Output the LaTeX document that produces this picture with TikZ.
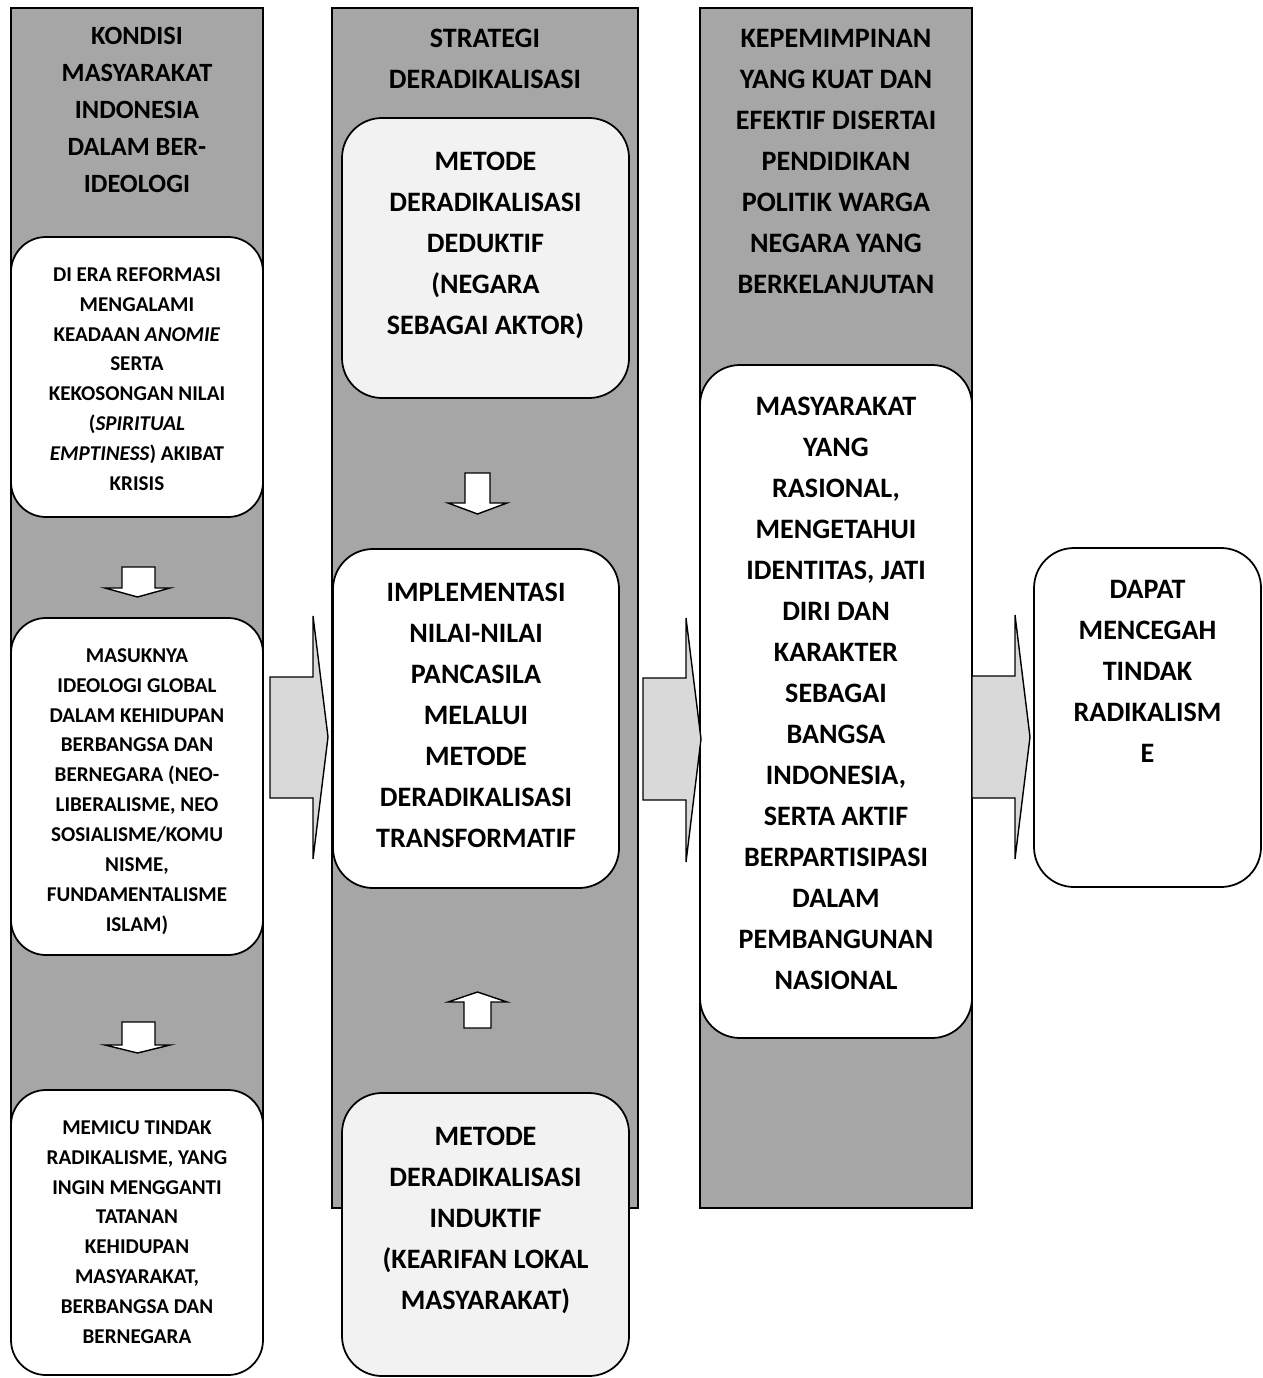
\documentclass[tikz,border=0pt]{standalone}
\usepackage{fontspec}
\setmainfont{Carlito}
\usetikzlibrary{positioning,fit}
\definecolor{colgray}{HTML}{A6A6A6}
\definecolor{boxgray}{HTML}{F2F2F2}
\definecolor{arrowgray}{HTML}{D9D9D9}

\begin{document}
\begin{tikzpicture}[
  x=0.02cm, y=-0.02cm, % 像素坐标
  column/.style={draw, line width=0.8pt, fill=colgray, inner sep=0pt},
  roundbox/.style={draw, line width=1pt, fill=white, rounded corners=0.8cm, inner sep=0pt},
  lightbox/.style={roundbox, fill=boxgray},
  bigtxt/.style={font=\fontsize{16}{23.3}\selectfont\bfseries, align=center, inner sep=0pt},
  smalltxt/.style={font=\fontsize{12}{17}\selectfont\bfseries, align=center, inner sep=0pt},
  headtxt/.style={font=\fontsize{15}{21}\selectfont\bfseries, align=center, inner sep=0pt},
  blockarrow/.style={draw, line width=0.8pt, fill=arrowgray, line join=miter},
  whitearrow/.style={draw, line width=0.8pt, fill=white, line join=miter}
]
\useasboundingbox (0,0) rectangle (1262,1378);

% 第一列
\node (col1) [column, fit={(11,8) (263,1200)}] {};
\node (col1head) [headtxt, below=0.4cm of col1.north] {KONDISI\\MASYARAKAT\\INDONESIA\\DALAM BER-\\IDEOLOGI};

\node (krisis) [roundbox, rounded corners=0.7cm, fit={(11,237) (263,517)}] {};
\node (krisisTxt) [smalltxt, below=0.62cm of krisis.north] {DI ERA REFORMASI\\MENGALAMI\\KEADAAN \textit{ANOMIE}\\SERTA\\KEKOSONGAN NILAI\\(\textit{SPIRITUAL}\\\textit{EMPTINESS}) AKIBAT\\KRISIS};

\node (global) [roundbox, rounded corners=0.7cm, fit={(11,618) (263,955)}] {};
\node (globalTxt) [smalltxt, below=0.62cm of global.north] {MASUKNYA\\IDEOLOGI GLOBAL\\DALAM KEHIDUPAN\\BERBANGSA DAN\\BERNEGARA (NEO-\\LIBERALISME, NEO\\SOSIALISME/KOMU\\NISME,\\FUNDAMENTALISME\\ISLAM)};

\node (pemicu) [roundbox, rounded corners=0.7cm, fit={(11,1090) (263,1375)}] {};
\node (pemicuTxt) [smalltxt, below=0.62cm of pemicu.north] {MEMICU TINDAK\\RADIKALISME, YANG\\INGIN MENGGANTI\\TATANAN\\KEHIDUPAN\\MASYARAKAT,\\BERBANGSA DAN\\BERNEGARA};

\draw[whitearrow] (122,567) -- (155,567) -- (155,588) -- (170,588) -- (137.5,597) -- (105,588) -- (122,588) -- cycle;
\draw[whitearrow] (122,1022) -- (155,1022) -- (155,1045) -- (170,1045) -- (137.5,1053) -- (105,1045) -- (122,1045) -- cycle;

% 第二列
\node (col2) [column, fit={(332,8) (638,1208)}] {};
\node (col2head) [bigtxt, below=0.42cm of col2.north] {STRATEGI\\DERADIKALISASI};

\node (deduktif) [lightbox, fit={(342,118) (629,398)}] {};
\node (deduktifTxt) [bigtxt, below=0.7cm of deduktif.north] {METODE\\DERADIKALISASI\\DEDUKTIF\\(NEGARA\\SEBAGAI AKTOR)};

\node (pancasila) [roundbox, fit={(333,549) (619,888)}] {};
\node (pancasilaTxt) [bigtxt, below=0.7cm of pancasila.north] {IMPLEMENTASI\\NILAI-NILAI\\PANCASILA\\MELALUI\\METODE\\DERADIKALISASI\\TRANSFORMATIF};

\node (induktif) [lightbox, fit={(342,1093) (629,1376)}] {};
\node (induktifTxt) [bigtxt, below=0.7cm of induktif.north] {METODE\\DERADIKALISASI\\INDUKTIF\\(KEARIFAN LOKAL\\MASYARAKAT)};

\draw[whitearrow] (465,473) -- (490,473) -- (490,503) -- (507,503) -- (477.5,514) -- (448,503) -- (465,503) -- cycle;
\draw[whitearrow] (464,1028) -- (491,1028) -- (491,1002) -- (507,1002) -- (477.5,992) -- (448,1002) -- (464,1002) -- cycle;

% 第三列
\node (col3) [column, fit={(700,8) (972,1208)}] {};
\node (col3head) [bigtxt, below=0.44cm of col3.north] {KEPEMIMPINAN\\YANG KUAT DAN\\EFEKTIF DISERTAI\\PENDIDIKAN\\POLITIK WARGA\\NEGARA YANG\\BERKELANJUTAN};

\node (rasional) [roundbox, fit={(700,365) (972,1038)}] {};
\node (rasionalTxt) [bigtxt, below=0.66cm of rasional.north] {MASYARAKAT\\YANG\\RASIONAL,\\MENGETAHUI\\IDENTITAS, JATI\\DIRI DAN\\KARAKTER\\SEBAGAI\\BANGSA\\INDONESIA,\\SERTA AKTIF\\BERPARTISIPASI\\DALAM\\PEMBANGUNAN\\NASIONAL};

% 第四列
\node (cegah) [roundbox, fit={(1034,548) (1261,887)}] {};
\node (cegahTxt) [bigtxt, below=0.66cm of cegah.north] {DAPAT\\MENCEGAH\\TINDAK\\RADIKALISM\\E};

% 大箭头
\draw[blockarrow] (270,677) -- (313,677) -- (313,616) -- (328,737) -- (313,859) -- (313,798) -- (270,798) -- cycle;
\draw[blockarrow] (643,678) -- (686,678) -- (686,618) -- (701,739) -- (686,862) -- (686,800) -- (643,800) -- cycle;
\draw[blockarrow] (972,676) -- (1015,676) -- (1015,615) -- (1030,737) -- (1015,859) -- (1015,798) -- (972,798) -- cycle;
\end{tikzpicture}
\end{document}
